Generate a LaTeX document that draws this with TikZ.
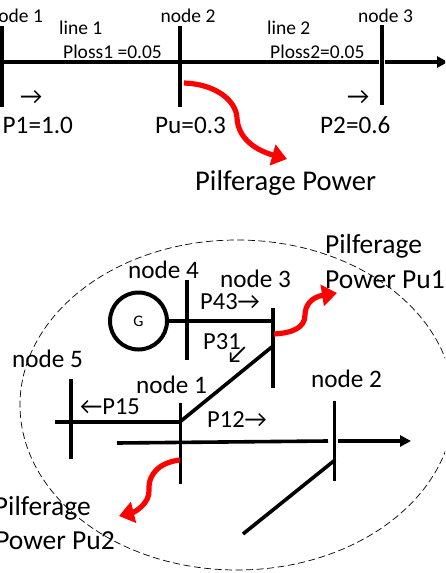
\documentclass[tikz,border=0pt]{standalone}
\usepackage{fontspec}
\setmainfont{Carlito}
\usetikzlibrary{
    arrows.meta,
    calc,
    positioning
}
\tikzset{
    bus/.style={line width=3.6pt},
    busend/.style={bus, -{Triangle[length=11pt,width=11pt]}},
    pilfer/.style={red, line width=5.2pt, -{Triangle[length=15pt,width=21pt]}},
    small/.style={inner sep=0pt, anchor=base west, font=\fontsize{19.5}{22}\selectfont},
    mid/.style={inner sep=0pt, anchor=base west, font=\fontsize{24.5}{28}\selectfont},
    big/.style={inner sep=0pt, anchor=base west, font=\fontsize{25.2}{28}\selectfont},
    huge/.style={inner sep=0pt, anchor=base west, font=\fontsize{27.5}{32}\selectfont},
    gen/.style={draw, circle, line width=4pt, minimum size=57pt, inner sep=0pt, font=\fontsize{16}{18}\selectfont}
}
\begin{document}
\begin{tikzpicture}[x=1pt, y=-1pt]
    \clip (0, 0) rectangle (445, 573);
    \foreach \name/\x/\top/\bottom in {a1/2/26/107, a2/180/26/107, a3/382/25/105, b4/187/280/360, b3/273/308/388, b5/71/379/459, b1/180.5/403/484, b2/334.5/401/481} {
        \coordinate (\name top) at (\x, \top);
        \coordinate (\name bottom) at (\x, \bottom);
        \draw[bus] (\name top) -- (\name bottom);
    }
    \coordinate (a1 line) at (2, 62);
    \coordinate (a2 line) at (180, 62);
    \coordinate (a3 left) at (379, 62);
    \coordinate (a3 right) at (385, 62);
    \coordinate (a3 end) at (448, 62);
    \draw[bus] (a1 line) -- (a2 line) -- (a3 left);
    \draw[busend] (a3 right) -- (a3 end);
    \coordinate (pu start) at (184, 83);
    \coordinate (pu end) at (287, 159);
    \draw[pilfer] (pu start) .. controls (215, 84) and (236, 100) .. (237, 118) .. controls (238, 138) and (255, 150) .. (pu end);
    \node[small] (n1) at (-12, 22) {node 1};
    \node[small] (n2) at (160.5, 22) {node 2};
    \node[small] (n3) at (358, 22) {node 3};
    \node[small] (l1) at (59, 34) {line 1};
    \node[small] (l2) at (267, 34) {line 2};
    \node[small] (loss1) at (63, 58) {Ploss1 =0.05};
    \node[small] (loss2) at (270, 58) {Ploss2=0.05};
    \node[mid] (dir1) at (20, 104) {→};
    \node[mid] (dir2) at (347, 104) {→};
    \node[big] (p1) at (2.5, 133) {P1=1.0};
    \node[big] (pu) at (155, 133) {Pu=0.3};
    \node[big] (p2) at (320, 133) {P2=0.6};
    \node[huge, font=\fontsize{28.6}{32}\selectfont] (pp) at (195, 190) {Pilferage Power};
    \draw[dash pattern=on 7pt off 3.5pt, line width=0.7pt] (237, 405) ellipse [x radius=217pt, y radius=165pt];
    \node[gen] (G) at (138.5, 321) {G};
    \coordinate (b3 g) at (273, 321);
    \coordinate (b3 a) at (273, 346);
    \coordinate (b1 a) at (181, 421);
    \coordinate (b5 a) at (55, 422);
    \coordinate (b1 b) at (180.5, 422);
    \coordinate (b1 c) at (117, 443);
    \coordinate (b2 c) at (328, 441);
    \coordinate (b2 d) at (338, 441);
    \coordinate (b2 end) at (411, 441);
    \coordinate (b2 a) at (335, 460);
    \coordinate (b2 low) at (243, 534);
    \draw[bus] (G.east) -- (b3 g);
    \draw[bus] (b3 a) -- (b1 a);
    \draw[bus] (b5 a) -- (b1 b);
    \draw[bus] (b1 c) -- (b2 c);
    \draw[busend] (b2 d) -- (b2 end);
    \draw[bus] (b2 a) -- (b2 low);
    \coordinate (pa start) at (274, 334);
    \coordinate (pa end) at (337, 293);
    \coordinate (pb start) at (180, 460);
    \coordinate (pb end) at (119, 516);
    \draw[pilfer] (pa start) .. controls (292, 333) and (305, 328) .. (305, 315) .. controls (305, 305) and (312, 297) .. (pa end);
    \draw[pilfer] (pb start) .. controls (162, 462) and (148, 472) .. (149, 490) .. controls (150, 503) and (135, 512) .. (pb end);
    \node[huge] (pil1) at (325, 253) {Pilferage};
    \node[huge] (pow1) at (325, 288) {Power Pu1};
    \node[big] (n4) at (128, 278) {node 4};
    \node[big] (n3b) at (220, 287) {node 3};
    \node[mid] (p43) at (200, 309) {P43→};
    \node[mid] (p31) at (203, 349) {P31};
    \node[big] (dir31) at (226, 362) {↙};
    \node[big] (n5) at (12, 367) {node 5};
    \node[big] (n1b) at (136, 393) {node 1};
    \node[mid] (p15) at (80, 414) {←P15};
    \node[mid] (p12) at (207, 427) {P12→};
    \node[big] (n2b) at (311, 387) {node 2};
    \node[huge, anchor=base east] (pil2) at (91, 515) {Pilferage};
    \node[huge, anchor=base east] (pow2) at (115, 549) {Power Pu2};
\end{tikzpicture}
\end{document}
